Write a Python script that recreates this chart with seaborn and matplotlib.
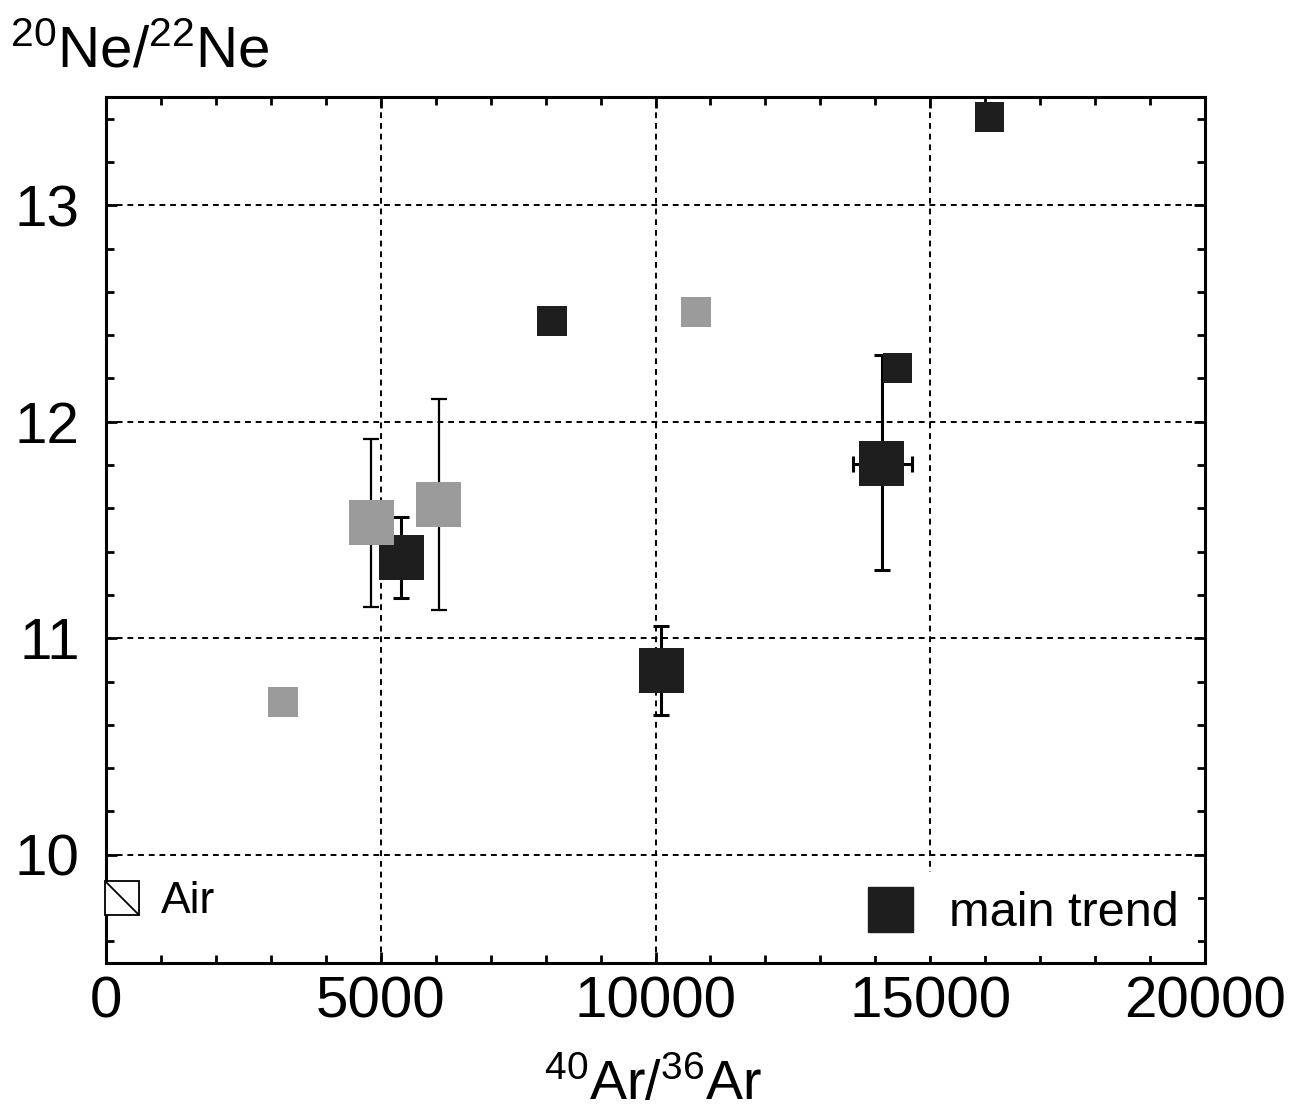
import numpy as np
import pandas as pd
import matplotlib.pyplot as plt
from matplotlib.lines import Line2D
from matplotlib.path import Path
from matplotlib.ticker import MultipleLocator
import seaborn as sns

# main trend samples (dark squares)
main_ar = [5369, 8122, 10100, 14120, 14403, 16080]
main_ne = [11.375, 12.464, 10.849, 11.807, 12.247, 13.408]
main_kind = ["large", "small", "large", "large", "small", "small"]
main_ne_lo = [11.186, np.nan, 10.646, 11.315, np.nan, np.nan]
main_ne_hi = [11.56, np.nan, 11.057, 12.307, np.nan, np.nan]
main_ar_lo = [np.nan, np.nan, np.nan, 13600, np.nan, np.nan]
main_ar_hi = [np.nan, np.nan, np.nan, 14676, np.nan, np.nan]

# other samples (grey squares)
other_ar = [3227, 4830, 6053, 10739]
other_ne = [10.706, 11.534, 11.617, 12.506]
other_kind = ["small", "large", "large", "small"]
other_ne_lo = [np.nan, 11.145, 11.13, np.nan]
other_ne_hi = [np.nan, 11.92, 12.104, np.nan]
other_ar_lo = [np.nan] * 4
other_ar_hi = [np.nan] * 4

# atmospheric composition
air_ar = [295.5]
air_ne = [9.8]

dark = "#1e1e1e"
grey = "#9b9b9b"

df = pd.DataFrame(
    {
        "ar": main_ar + other_ar,
        "ne": main_ne + other_ne,
        "group": ["main"] * len(main_ar) + ["other"] * len(other_ar),
        "kind": main_kind + other_kind,
        "ne_lo": main_ne_lo + other_ne_lo,
        "ne_hi": main_ne_hi + other_ne_hi,
        "ar_lo": main_ar_lo + other_ar_lo,
        "ar_hi": main_ar_hi + other_ar_hi,
    }
)

sns.set_style("ticks")
plt.rcParams["font.family"] = ["Liberation Sans", "DejaVu Sans"]
plt.rcParams["mathtext.fontset"] = "custom"
plt.rcParams["mathtext.rm"] = "Liberation Sans"
plt.rcParams["mathtext.it"] = "Liberation Sans"
plt.rcParams["mathtext.bf"] = "Liberation Sans"
for key in ["text.color", "axes.labelcolor", "xtick.color", "ytick.color",
            "axes.edgecolor"]:
    plt.rcParams[key] = "black"

fig = plt.figure(figsize=(13.01, 11.12), dpi=100)
ax = fig.add_axes([0.0815, 0.134, 0.8447, 0.7788])

# error bars first, squares on top
lw = {"main": 2.2, "other": 1.6}
ybars = df.dropna(subset=["ne_lo"])
for _, r in ybars.iterrows():
    ax.errorbar(
        r["ar"], r["ne"],
        yerr=[[r["ne"] - r["ne_lo"]], [r["ne_hi"] - r["ne"]]],
        fmt="none", ecolor="black", elinewidth=lw[r["group"]],
        capsize=6, capthick=lw[r["group"]], zorder=2,
    )
xbars = df.dropna(subset=["ar_lo"])
for _, r in xbars.iterrows():
    ax.errorbar(
        r["ar"], r["ne"],
        xerr=[[r["ar"] - r["ar_lo"]], [r["ar_hi"] - r["ar"]]],
        fmt="none", ecolor="black", elinewidth=lw[r["group"]],
        capsize=6, capthick=lw[r["group"]], zorder=2,
    )

sns.scatterplot(
    data=df, x="ar", y="ne", hue="group", size="kind",
    palette={"main": dark, "other": grey},
    sizes={"large": 1050, "small": 460},
    marker="s", linewidth=0, legend=False, ax=ax, zorder=3,
)

# air point: open square with one diagonal
ax.plot(air_ar, air_ne, marker="s", ms=24.5, mfc="white", mec="black",
        mew=1.3, ls="none", zorder=4, clip_on=False)
ax.plot(air_ar, air_ne, marker=Path([(-1, 1), (1, -1)]), ms=24.5,
        mfc="none", mec="black", mew=1.3, ls="none", zorder=5, clip_on=False)
ax.text(1000, 9.785, "Air", fontsize=32, va="center", ha="left")

ax.set_xlim(0, 20000)
ax.set_ylim(9.5, 13.5)
ax.xaxis.set_major_locator(MultipleLocator(5000))
ax.xaxis.set_minor_locator(MultipleLocator(1000))
ax.yaxis.set_major_locator(MultipleLocator(1))
ax.yaxis.set_minor_locator(MultipleLocator(0.2))
ax.set_xlabel("")
ax.set_ylabel("")

ax.grid(which="major", color="black", linestyle=(0, (3, 2.5)), linewidth=1.4)
ax.set_axisbelow(True)
for s in ax.spines.values():
    s.set_linewidth(2.2)
    s.set_color("black")
ax.tick_params(which="both", direction="in", top=True, right=True,
               width=2, color="black")
ax.tick_params(which="major", length=8)
ax.tick_params(which="minor", length=6)
ax.tick_params(axis="x", which="major", labelsize=42, pad=9)
ax.tick_params(axis="y", which="major", labelsize=42, pad=19)

handle = Line2D([], [], marker="s", ms=32.4, color=dark, ls="none")
leg = ax.legend([handle], ["main trend"], loc="lower right", fontsize=35,
                frameon=True, framealpha=1, facecolor="white",
                edgecolor="none", handletextpad=0.2, borderaxespad=0.15,
                borderpad=0.4)
leg.get_frame().set_boxstyle("square", pad=0)

fig.text(10 / 1301, 1 - 68 / 1112, r"$^{20}$Ne/$^{22}$Ne", fontsize=42,
         ha="left", va="baseline")
fig.text(653 / 1301, 1 - 1100 / 1112, r"$^{40}$Ar/$^{36}$Ar", fontsize=40,
         ha="center", va="baseline")

fig.savefig("out.png", dpi=100)
